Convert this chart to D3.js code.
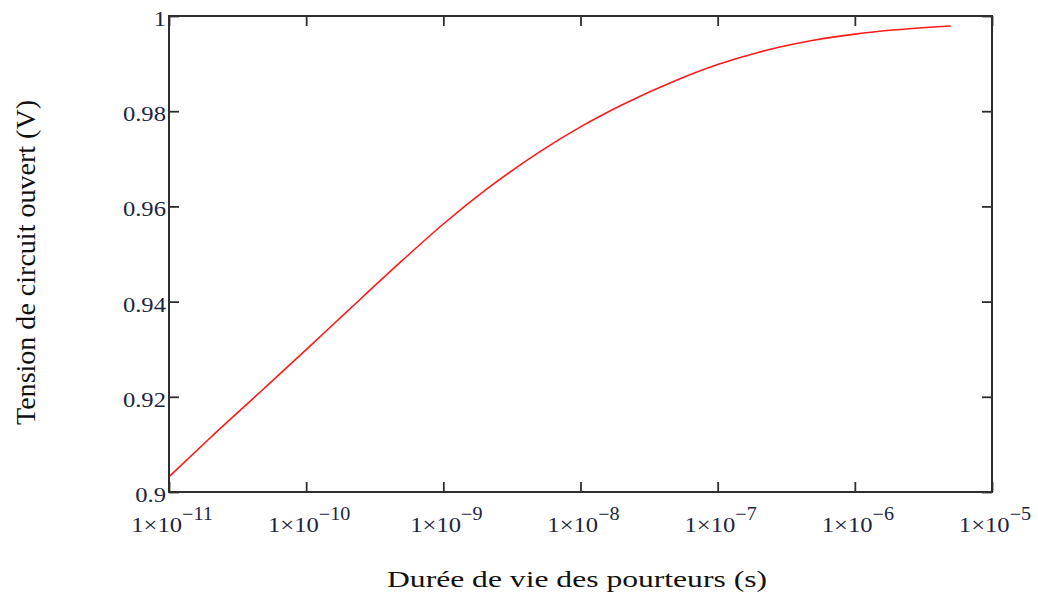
<!DOCTYPE html>
<html>
<head>
<meta charset="utf-8">
<script src="https://cdn.jsdelivr.net/npm/d3@7"></script>
<style>
  html, body { margin: 0; padding: 0; background: #fff; }
  svg { display: block; }
  text { font-family: "Liberation Serif", "Times New Roman", serif; }
</style>
</head>
<body>
<svg id="chart" width="1038" height="595"></svg>
<script>
// ---- data ----
const lifetimes = [1e-11, 2e-11, 5e-11, 1e-10, 2e-10, 5e-10, 1e-9, 2e-9, 5e-9, 1e-8, 2e-8, 5e-8,
                   1e-7, 2e-7, 5e-7, 1e-6, 2e-6, 5e-6];
const voc = [0.9032, 0.9114, 0.9219, 0.9299, 0.9380, 0.9486, 0.9563, 0.9633, 0.9714, 0.9767, 0.9813, 0.9865,
             0.9898, 0.9924, 0.9949, 0.9962, 0.9971, 0.9979];
const xTickExps = [-11, -10, -9, -8, -7, -6, -5];
const yTicks = [0.9, 0.92, 0.94, 0.96, 0.98, 1];
const yTickLabels = ["0.9", "0.92", "0.94", "0.96", "0.98", "1"];
const xTitle = "Durée de vie des pourteurs (s)";
const yTitle = "Tension de circuit ouvert (V)";

// ---- layout ----
const L = 169, R = 992, T = 16, B = 492;
const svg = d3.select("#chart");
const x = d3.scaleLog().domain([1e-11, 1e-5]).range([L, R]);
const y = d3.scaleLinear().domain([0.9, 1]).range([B, T]);

const tickLen = 10;
const frameColor = "#2e2e2e";
const labelColor = "#1c2540";

// curve
const line = d3.line()
  .x((d, i) => x(lifetimes[i]))
  .y(d => y(d))
  .curve(d3.curveMonotoneX);
svg.append("path")
  .datum(voc)
  .attr("d", line)
  .attr("fill", "none")
  .attr("stroke", "#ff1a1a")
  .attr("stroke-width", 1.6);

// axes with inward ticks on all four sides
const xVals = xTickExps.map(e => Math.pow(10, e));
svg.append("g").attr("transform", `translate(0,${B})`)
  .call(d3.axisTop(x).tickValues(xVals).tickSize(tickLen).tickFormat(""));
svg.append("g").attr("transform", `translate(0,${T})`)
  .call(d3.axisBottom(x).tickValues(xVals).tickSize(tickLen).tickFormat(""));
svg.append("g").attr("transform", `translate(${L},0)`)
  .call(d3.axisRight(y).tickValues(yTicks).tickSize(tickLen).tickFormat(""));
svg.append("g").attr("transform", `translate(${R},0)`)
  .call(d3.axisLeft(y).tickValues(yTicks).tickSize(tickLen).tickFormat(""));
svg.selectAll(".domain").remove();
svg.selectAll(".tick line").attr("stroke", frameColor).attr("stroke-width", 1.8);

// frame
svg.append("rect")
  .attr("x", L).attr("y", T).attr("width", R - L).attr("height", B - T)
  .attr("fill", "none").attr("stroke", frameColor).attr("stroke-width", 2);

// y tick labels
yTicks.forEach((v, i) => {
  svg.append("text")
    .attr("transform", `translate(${L - 3},${y(v) + 10}) scale(1.12,1)`)
    .attr("text-anchor", "end")
    .attr("font-size", 22)
    .attr("fill", labelColor)
    .text(yTickLabels[i]);
});

// x tick labels: 1×10^e
xTickExps.forEach(e => {
  const g = svg.append("text")
    .attr("transform", `translate(${x(Math.pow(10, e)) + 3},532) scale(1.12,1)`)
    .attr("text-anchor", "middle")
    .attr("font-size", 22)
    .attr("fill", labelColor);
  g.append("tspan").text("1×10");
  g.append("tspan").attr("dy", -12).attr("font-size", 18).text("−" + Math.abs(e));
});

// axis titles
svg.append("text")
  .attr("x", 387).attr("y", 587)
  .attr("font-size", 24)
  .attr("fill", "#111")
  .attr("textLength", 380)
  .attr("lengthAdjust", "spacingAndGlyphs")
  .text(xTitle);

svg.append("text")
  .attr("transform", `translate(35,425) rotate(-90)`)
  .attr("font-size", 27)
  .attr("fill", "#111")
  .attr("textLength", 325)
  .attr("lengthAdjust", "spacingAndGlyphs")
  .text(yTitle);
</script>
</body>
</html>
